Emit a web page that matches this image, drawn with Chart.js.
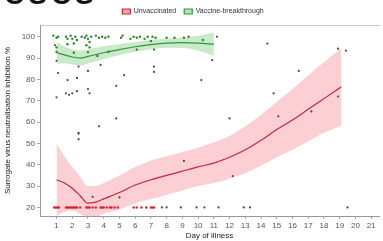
<!DOCTYPE html>
<html><head><meta charset="utf-8">
<script src="https://cdn.jsdelivr.net/npm/chart.js@4/dist/chart.umd.min.js"></script>
<style>
html,body{margin:0;padding:0;background:#fff;overflow:hidden}
#wrap{position:relative;width:383px;height:241px}
#head{position:absolute;left:4px;top:-21px;font:bold 28px "Liberation Sans",Arial,sans-serif;color:#111;letter-spacing:4px;z-index:2}
</style></head>
<body><div id="wrap"><canvas id="c" width="383" height="241"></canvas><div id="head">CSCS</div></div>
<script>
// fitted curves
const redDays   = [1,1.5,2,2.5,3,3.5,4,5,6,7,8,9,10,11,12,13,14,15,16,17,18,19,19.1];
const redFit    = [33,31.5,29,25.5,22,22.5,24,27,30.5,33,35,37,39,40.8,43.5,47,51.5,56.5,61,66,71,76,76.5];
const redUpper  = [50,44,39,34.5,30,30,31.5,35,39,42,44,46,48,50.5,53.5,58,63.5,69.5,75.5,82,88,94,94.5];
const redLower  = [16,18,18.5,17,15,15.5,17,19,22,24,26,28,30,31.5,33.5,36,39.5,43.5,47,51,55,58,58.5];
const greenDays = [1,1.5,2,2.5,3,4,5,6,7,8,9,10,11];
const greenFit  = [92.5,91.5,90.5,90,90.8,92.5,94,95.3,96.3,97,97.2,97,96.5];
const greenUpper= [97.5,95.5,94,93.5,94,95.5,96.5,97.5,98.5,99.2,99.7,100.5,102];
const greenLower= [87.5,87.5,87,86.5,87.5,89.5,91.5,93,94,94.8,94.7,93.5,91];
// observations
const greenPtX = [0.8,1.0,1.1,1.6,1.7,1.9,2.0,2.2,2.3,2.6,2.8,2.9,3.0,3.1,3.2,3.5,3.7,3.9,4.1,4.3,5.1,5.7,5.9,6.1,6.3,6.6,6.8,7.0,7.1,7.3,8.0,8.5,9.1,9.4,10.3,1.0,2.1,2.9,3.1,4.3,1.0,1.7,3.0,2.1];
const greenPtY = [100.5,99.5,100,100,99,100.5,99,100,98.5,100,99.5,100.5,99,97.5,100,100.5,99.5,100,99.5,100,99.5,99,100,99.5,100,99,100,98,100,99.5,99.5,99.5,99.5,100,98.5,93,92.5,96,95,93,95,96.5,92.8,96.8];
const redPtX = [0.85,0.95,1.05,1.15,1.6,1.7,1.8,1.9,2.0,2.1,2.2,2.3,2.5,2.9,3.0,3.1,3.3,3.5,3.8,3.9,4.0,4.2,4.4,4.5,4.7,4.9,5.9,6.1,6.4,6.7,7.0,7.1,7.2];
const redPtY = [20,20,20,20,20,20,20,20,20,20,20,20,20,20,20,20,20,20,20,20,20,20,20,20,20,20,20,20,20,20,20,20,20];
const darkPtX = [1,1.1,1,1.6,1.8,2,1.7,2.3,2.3,3,3.1,2.4,3,3.6,3.8,4.8,5.3,4.8,3.7,2.4,2.4,2.4,3.3,5,6.1,7.2,10.9,7.2,7.2,10.2,12,9.1,12.2,14.4,18.9,19.4,16.4,14.8,15.1,17.2,18.9,11.2,5.2,0.9,7.7,8.0,8.9,9.9,10.4,11.3,12.9,13.3,19.5];
const darkPtY = [88.7,83,71.6,73.5,72.8,73.5,79.7,80.7,74.5,75.5,73.5,86,84,91,86.8,77,82,61.7,58,55,54.6,52,25,24.7,94,94,89,86,83.5,79.7,61.7,41.8,34.7,96.8,94.4,93.5,84,73.5,62.7,65,72,100,100.5,96,20,20,20,20,20,20,20,20,20];
const xTicks = [1,2,3,4,5,6,7,8,9,10,11,12,13,14,15,16,17,18,19,20,21];
const yTicks = [20,30,40,50,60,70,80,90,100];

const pts = (xs, ys) => xs.map((x, i) => ({x, y: ys[i]}));
const curve = {type:'line', showLine:true, pointRadius:0, cubicInterpolationMode:'monotone'};
const font = {family:'"Liberation Sans", Arial, sans-serif', size:8};

new Chart(document.getElementById('c'), {
  type: 'scatter',
  data: { datasets: [
    Object.assign({label:'Unvaccinated', data:pts(redDays, redFit), borderColor:'#c4283c', backgroundColor:'#f7a9b2', borderWidth:1.2, fill:false, order:1}, curve),
    Object.assign({label:'Vaccine-breakthrough', data:pts(greenDays, greenFit), borderColor:'#2c9a3c', backgroundColor:'#b6e2b6', borderWidth:1.2, fill:false, order:1}, curve),
    Object.assign({label:'ru', data:pts(redDays, redUpper), borderWidth:0, borderColor:'rgba(0,0,0,0)', fill:false, order:3}, curve),
    Object.assign({label:'rl', data:pts(redDays, redLower), borderWidth:0, borderColor:'rgba(0,0,0,0)', backgroundColor:'rgba(248,140,152,0.42)', fill:'-1', order:3}, curve),
    Object.assign({label:'gu', data:pts(greenDays, greenUpper), borderWidth:0, borderColor:'rgba(0,0,0,0)', fill:false, order:2}, curve),
    Object.assign({label:'gl', data:pts(greenDays, greenLower), borderWidth:0, borderColor:'rgba(0,0,0,0)', backgroundColor:'rgba(120,200,120,0.40)', fill:'-1', order:2}, curve),
    {label:'gp', data:pts(greenPtX, greenPtY), pointRadius:1.2, pointBackgroundColor:'#2a8a2a', pointBorderWidth:0, order:0},
    {label:'rp', data:pts(redPtX, redPtY), pointRadius:1.2, pointBackgroundColor:'#e0202a', pointBorderWidth:0, order:0},
    {label:'dp', data:pts(darkPtX, darkPtY), pointRadius:1.1, pointBackgroundColor:'#4a4a4a', pointBorderWidth:0, order:0}
  ]},
  options: {
    responsive:false, animation:false, devicePixelRatio:1,
    layout:{padding:{left:3, right:0, top:0, bottom:0}},
    plugins:{
      tooltip:{enabled:false},
      legend:{position:'top', align:'center',
        labels:{font:{family:font.family,size:7}, color:'#333', boxWidth:8, boxHeight:5, padding:8,
          filter:(it)=> it.datasetIndex < 2}}
    },
    scales:{
      x:{type:'linear', min:-0.05, max:21.5,
        afterBuildTicks:(ax)=>{ax.ticks = xTicks.map(v=>({value:v}));},
        afterFit:(ax)=>{ax.height = 25;},
        ticks:{font, color:'#555', padding:2, autoSkip:false, maxRotation:0},
        grid:{display:true, drawOnChartArea:false, tickLength:3, color:'#aaa'},
        border:{color:'#999'},
        title:{display:true, text:'Day of illness', font:{family:font.family,size:8}, color:'#222', padding:{top:0,bottom:0}}},
      x2:{type:'linear', position:'top', min:-0.05, max:21.5, ticks:{display:false},
        afterFit:(ax)=>{ax.height = 0;},
        grid:{display:false}, border:{color:'#ccc'}},
      y:{type:'linear', min:16, max:105.5,
        afterBuildTicks:(ax)=>{ax.ticks = yTicks.map(v=>({value:v}));},
        afterFit:(ax)=>{ax.width = 37;},
        ticks:{font, color:'#555', padding:2},
        grid:{display:true, drawOnChartArea:false, tickLength:3, color:'#aaa'},
        border:{color:'#999'},
        title:{display:true, text:'Surrogate virus neutralisation inhibition %', font:{family:font.family,size:8}, color:'#222', padding:{top:0,bottom:2}}}
    }
  }
});
</script></body></html>
